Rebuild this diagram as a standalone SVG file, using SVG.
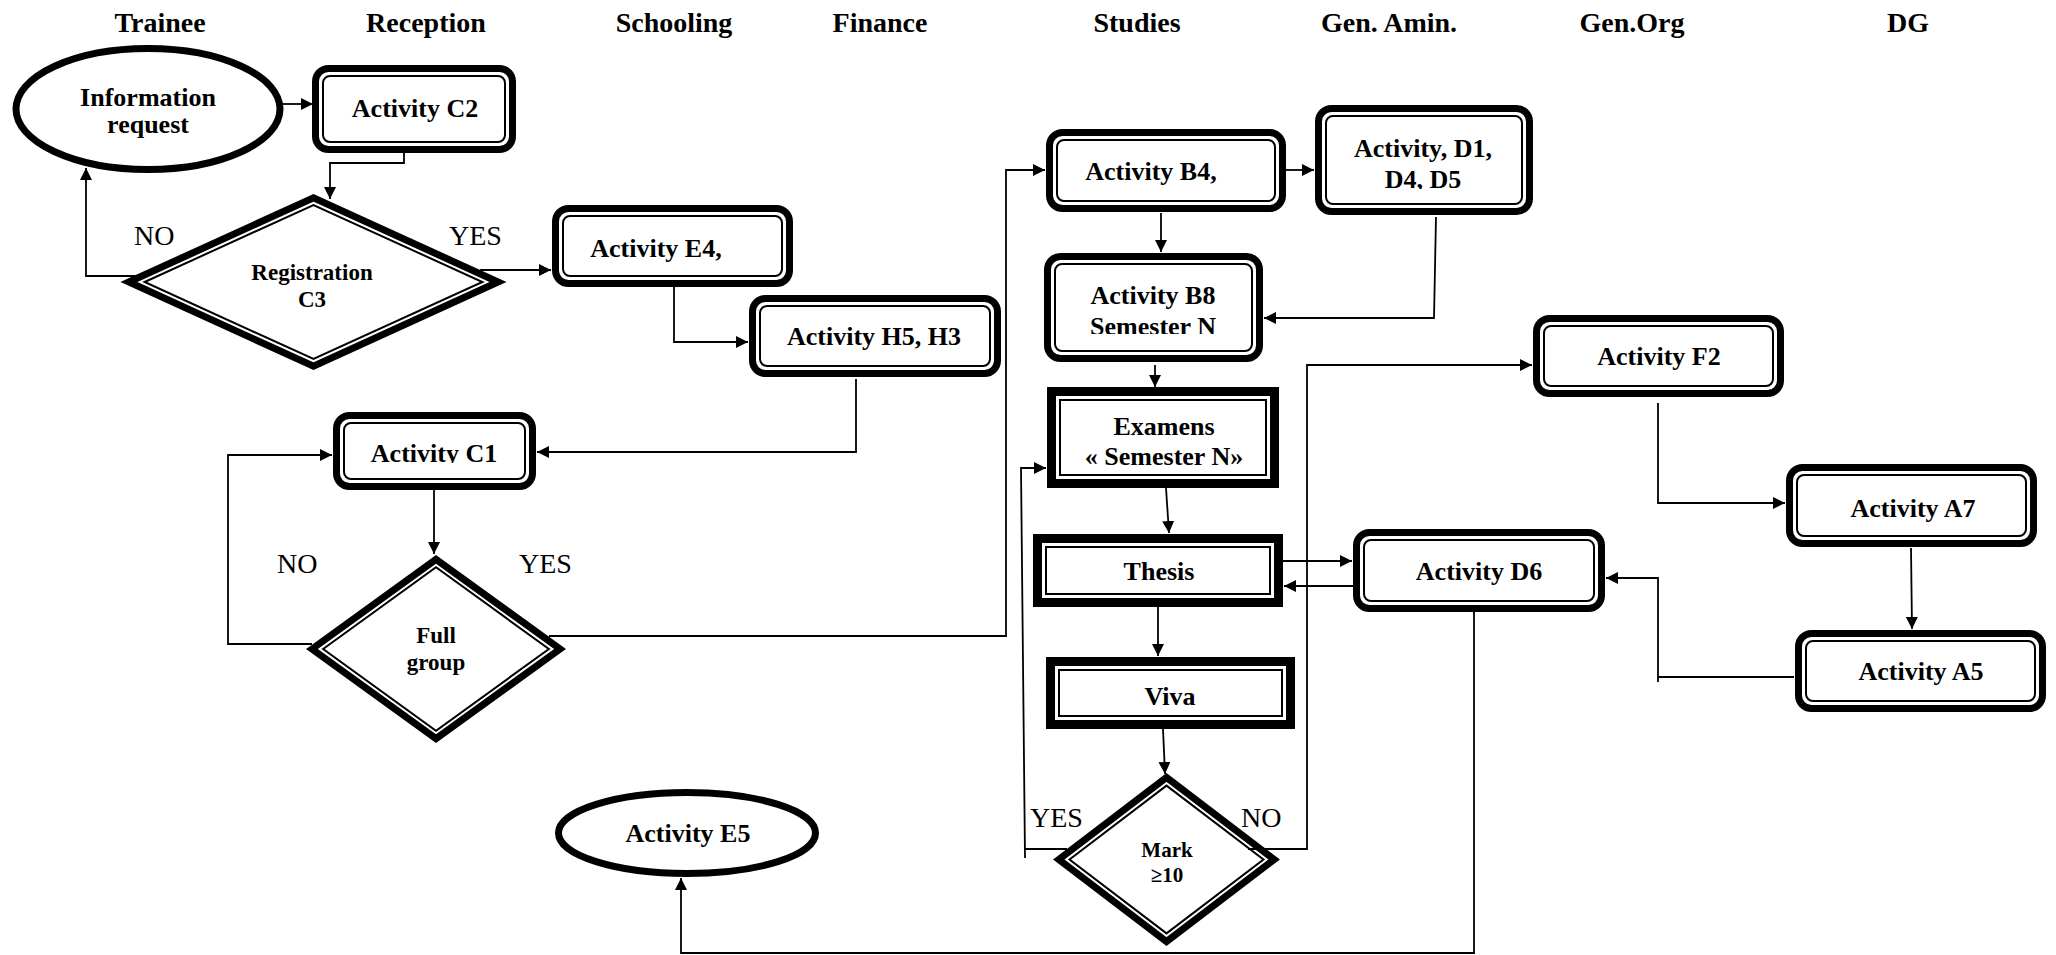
<svg xmlns="http://www.w3.org/2000/svg" width="2056" height="955" viewBox="0 0 2056 955">
  <style>
    .hdr { font-family: "Liberation Serif", "Times New Roman", serif; font-weight: bold; font-size: 28px; text-anchor: middle; fill: #000; }
    .lbl { font-family: "Liberation Serif", "Times New Roman", serif; font-weight: bold; font-size: 26px; text-anchor: middle; fill: #000; }
    .dlbl { font-family: "Liberation Serif", "Times New Roman", serif; font-weight: bold; font-size: 23px; text-anchor: middle; fill: #000; }
    .mlbl { font-family: "Liberation Serif", "Times New Roman", serif; font-weight: bold; font-size: 21px; text-anchor: middle; fill: #000; }
    .yn { font-family: "Liberation Serif", "Times New Roman", serif; font-size: 28px; fill: #000; }
    .thick { fill: #fff; stroke: #000; stroke-width: 7; }
    .sq { fill: #fff; stroke: #000; stroke-width: 9; }
    .thin { fill: none; stroke: #000; stroke-width: 2; }
    .oval { fill: #fff; stroke: #000; stroke-width: 7; }
    .edge { fill: none; stroke: #000; stroke-width: 1.8; marker-end: url(#arrow); }
    .line { fill: none; stroke: #000; stroke-width: 1.8; }
  </style>
  <defs>
    <marker id="arrow" markerUnits="userSpaceOnUse" markerWidth="13" markerHeight="12" refX="12" refY="6" orient="auto">
      <path d="M0,0 L12,6 L0,12 z" fill="#000"/>
    </marker>
    <clipPath id="clipC1"><rect x="330" y="400" width="210" height="63"/></clipPath>
    <clipPath id="clipB8"><rect x="1040" y="250" width="230" height="84"/></clipPath>
    <clipPath id="clipD1"><rect x="1310" y="100" width="230" height="89"/></clipPath>
  </defs>

  <rect width="2056" height="955" fill="#fff"/>

  <!-- swimlane headers -->
  <g id="headers">
    <text class="hdr" x="160" y="32">Trainee</text>
    <text class="hdr" x="426" y="32">Reception</text>
    <text class="hdr" x="674" y="32">Schooling</text>
    <text class="hdr" x="880" y="32">Finance</text>
    <text class="hdr" x="1137" y="32">Studies</text>
    <text class="hdr" x="1389" y="32">Gen. Amin.</text>
    <text class="hdr" x="1632" y="32">Gen.Org</text>
    <text class="hdr" x="1908" y="32">DG</text>
  </g>

  <!-- nodes -->
  <g id="info-request">
    <ellipse class="oval" cx="148" cy="109" rx="132" ry="60.5"/>
    <text class="lbl" x="148" y="106">Information</text>
    <text class="lbl" x="148" y="133">request</text>
  </g>

  <g id="activity-c2">
    <rect class="thick" x="315.5" y="68.5" width="197" height="81" rx="13"/>
    <rect class="thin" x="323" y="76" width="182" height="66" rx="7"/>
    <text class="lbl" x="415" y="117">Activity C2</text>
  </g>

  <g id="registration-c3">
    <polygon class="thick" points="128.9,282 313.5,197.8 498.1,282 313.5,366.2"/>
    <polygon class="thin" points="144.6,282 313.5,205 482.4,282 313.5,359"/>
    <text class="dlbl" x="312" y="280">Registration</text>
    <text class="dlbl" x="312" y="307">C3</text>
  </g>

  <g id="activity-e4">
    <rect class="thick" x="555.5" y="208.5" width="234" height="75" rx="13"/>
    <rect class="thin" x="563" y="216" width="219" height="60" rx="7"/>
    <text class="lbl" x="656" y="257">Activity E4,</text>
  </g>

  <g id="activity-h5-h3">
    <rect class="thick" x="752.5" y="298.5" width="245" height="75" rx="13"/>
    <rect class="thin" x="760" y="306" width="230" height="60" rx="7"/>
    <text class="lbl" x="874" y="345">Activity H5, H3</text>
  </g>

  <g id="activity-c1">
    <rect class="thick" x="336.5" y="415.5" width="196" height="71" rx="13"/>
    <rect class="thin" x="344" y="423" width="181" height="56" rx="7"/>
    <text class="lbl" x="434" y="462" clip-path="url(#clipC1)">Activity C1</text>
  </g>

  <g id="full-group">
    <polygon class="thick" points="312,649 436,559.3 560,649 436,738.7"/>
    <polygon class="thin" points="323.1,649 436,567.3 548.9,649 436,730.7"/>
    <text class="dlbl" x="436" y="643">Full</text>
    <text class="dlbl" x="436" y="670">group</text>
  </g>

  <g id="activity-e5">
    <ellipse class="oval" cx="687" cy="833" rx="128.5" ry="40.5"/>
    <text class="lbl" x="688" y="842">Activity E5</text>
  </g>

  <g id="activity-b4">
    <rect class="thick" x="1049.5" y="132.5" width="233" height="76" rx="13"/>
    <rect class="thin" x="1057" y="140" width="218" height="61" rx="7"/>
    <text class="lbl" x="1151" y="180">Activity B4,</text>
  </g>

  <g id="activity-d1-d4-d5">
    <rect class="thick" x="1318.5" y="108.5" width="211" height="103" rx="13"/>
    <rect class="thin" x="1326" y="116" width="196" height="88" rx="7"/>
    <text class="lbl" x="1423" y="157">Activity, D1,</text>
    <text class="lbl" x="1423" y="188" clip-path="url(#clipD1)">D4, D5</text>
  </g>

  <g id="activity-b8">
    <rect class="thick" x="1047.5" y="256.5" width="212" height="102" rx="13"/>
    <rect class="thin" x="1055" y="264" width="197" height="87" rx="7"/>
    <text class="lbl" x="1153" y="304">Activity B8</text>
    <text class="lbl" x="1153" y="335" clip-path="url(#clipB8)">Semester N</text>
  </g>

  <g id="examens">
    <rect class="sq" x="1051.5" y="391.5" width="223" height="92"/>
    <rect class="thin" x="1060" y="400" width="206" height="75"/>
    <text class="lbl" x="1164" y="435">Examens</text>
    <text class="lbl" x="1164" y="465">« Semester N»</text>
  </g>

  <g id="thesis">
    <rect class="sq" x="1037.5" y="538.5" width="241" height="64"/>
    <rect class="thin" x="1046" y="547" width="224" height="47"/>
    <text class="lbl" x="1159" y="580">Thesis</text>
  </g>

  <g id="viva">
    <rect class="sq" x="1050.5" y="661.5" width="240" height="63"/>
    <rect class="thin" x="1059" y="670" width="223" height="46"/>
    <text class="lbl" x="1170" y="705">Viva</text>
  </g>

  <g id="mark">
    <polygon class="thick" points="1058.8,859.5 1166.5,777.4 1274.2,859.5 1166.5,941.6"/>
    <polygon class="thin" points="1069.5,859.5 1166.5,785.6 1263.5,859.5 1166.5,933.4"/>
    <text class="mlbl" x="1167" y="857">Mark</text>
    <text class="mlbl" x="1167" y="882">≥10</text>
  </g>

  <g id="activity-d6">
    <rect class="thick" x="1356.5" y="532.5" width="245" height="76" rx="13"/>
    <rect class="thin" x="1364" y="540" width="230" height="61" rx="7"/>
    <text class="lbl" x="1479" y="580">Activity D6</text>
  </g>

  <g id="activity-f2">
    <rect class="thick" x="1536.5" y="318.5" width="244" height="75" rx="13"/>
    <rect class="thin" x="1544" y="326" width="229" height="60" rx="7"/>
    <text class="lbl" x="1659" y="365">Activity F2</text>
  </g>

  <g id="activity-a7">
    <rect class="thick" x="1789.5" y="467.5" width="244" height="76" rx="13"/>
    <rect class="thin" x="1797" y="475" width="229" height="61" rx="7"/>
    <text class="lbl" x="1913" y="517">Activity A7</text>
  </g>

  <g id="activity-a5">
    <rect class="thick" x="1798.5" y="633.5" width="244" height="75" rx="13"/>
    <rect class="thin" x="1806" y="641" width="229" height="60" rx="7"/>
    <text class="lbl" x="1921" y="680">Activity A5</text>
  </g>

  <!-- connectors -->
  <g id="connectors">
    <path class="edge" d="M283,104 H313"/>
    <path class="edge" d="M404,153 V163 H330 V199"/>
    <path class="edge" d="M136,276 H86 V168"/>
    <path class="edge" d="M480,270 H551"/>
    <path class="edge" d="M674,287 V342 H748"/>
    <path class="edge" d="M856,379 V452 H537"/>
    <path class="edge" d="M434,490 V554"/>
    <path class="edge" d="M312,644 H228 V455 H332"/>
    <path class="edge" d="M549,636 H1006 V170 H1045"/>
    <path class="edge" d="M1286,170 H1314"/>
    <path class="edge" d="M1161,213 V252"/>
    <path class="edge" d="M1436,217 L1434,318 H1264"/>
    <path class="edge" d="M1155,365 V387"/>
    <path class="edge" d="M1166,488 L1169,533"/>
    <path class="edge" d="M1283,561 H1352"/>
    <path class="edge" d="M1353,586 H1284"/>
    <path class="edge" d="M1158,607 V656"/>
    <path class="edge" d="M1163,729 L1165,774"/>
    <path class="line" d="M1067,849 H1025"/>
    <path class="edge" d="M1025,858 L1021,468 H1046"/>
    <path class="edge" d="M1248,849 H1307 V365 H1532"/>
    <path class="edge" d="M1658,403 V503 H1785"/>
    <path class="edge" d="M1911,548 L1912,629"/>
    <path class="line" d="M1794,677 H1658"/>
    <path class="edge" d="M1658,682 V578 H1606"/>
    <path class="edge" d="M1474,612 V953 H681 V878"/>
  </g>

  <!-- decision outcomes -->
  <g id="branch-labels">
    <text class="yn" x="134" y="245">NO</text>
    <text class="yn" x="449" y="245">YES</text>
    <text class="yn" x="277" y="573">NO</text>
    <text class="yn" x="519" y="573">YES</text>
    <text class="yn" x="1030" y="827">YES</text>
    <text class="yn" x="1241" y="827">NO</text>
  </g>
</svg>
